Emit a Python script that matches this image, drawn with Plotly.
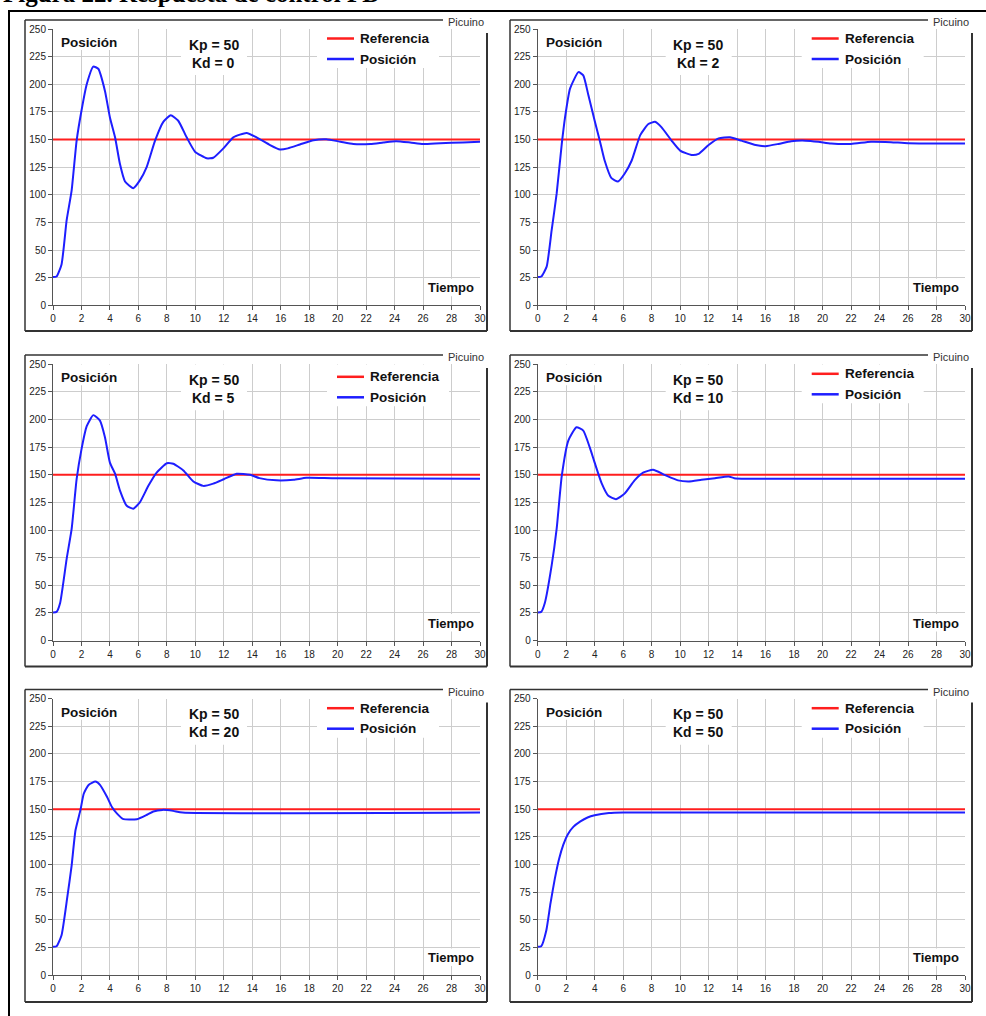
import plotly.graph_objects as go

# ---------------- data ----------------
kd_values = [0, 2, 5, 10, 20, 50]
kp_value = 50

ref_t = [0, 30]
ref_v = [150, 150]

t_kd0 = [0, 0.25, 0.6, 0.96, 1.31, 1.66, 2.0, 2.37, 2.83, 3.18, 3.65, 4.0, 4.36, 4.7, 5.06, 5.64, 6.1, 6.58,
         7.17, 7.75, 8.27, 8.8, 9.39, 9.98, 10.8, 11.26, 11.97, 12.67, 13.6, 14.3, 15.25, 15.95, 16.5, 17.35,
         18.3, 19.2, 20.2, 21.1, 22.3, 23.2, 24.1, 25.1, 26.0, 27.2, 28.8, 30]
v_kd0 = [25.5, 26, 37, 77, 104, 149, 176, 200, 216, 214, 194, 170, 152, 128, 112, 106, 113, 125,
         149, 166, 172, 167, 152, 139, 133, 133.5, 142, 152, 156, 152, 145, 141, 142, 145.5,
         149.4, 150.3, 148, 146, 146, 147.3, 148.5, 147.3, 146, 146.7, 147.3, 148]

t_kd2 = [0, 0.25, 0.63, 0.98, 1.33, 1.69, 1.92, 2.27, 2.86, 3.2, 3.56, 4.0, 4.36, 4.7, 5.18, 5.64, 6.1, 6.6,
         7.2, 7.77, 8.24, 8.7, 9.4, 10.0, 10.8, 11.3, 12.0, 12.7, 13.5, 14.3, 15.3, 16.0, 16.9, 17.8, 18.8,
         19.7, 20.6, 22.0, 23.4, 24.8, 26.0, 30]
v_kd2 = [25.5, 26, 35, 68, 101, 146, 170, 196, 211, 208, 190, 167, 149, 131, 115, 112, 119, 131,
         154, 164, 166, 161, 149, 140, 136, 137, 145, 151, 152, 149, 145, 144, 146, 148.5, 149,
         148, 146.4, 146, 148, 147.6, 146.7, 146.4]

t_kd5 = [0, 0.25, 0.5, 0.96, 1.31, 1.66, 2.0, 2.37, 2.83, 3.3, 3.65, 4.0, 4.36, 4.7, 5.18, 5.64, 6.1, 6.7,
         7.28, 8.0, 8.45, 9.16, 9.86, 10.56, 11.26, 12.0, 12.9, 13.84, 14.5, 15.7, 16.9, 17.8, 19.7, 30]
v_kd5 = [25.5, 26, 34, 74, 101, 146, 173, 194, 204, 199, 184, 161, 151, 136, 122, 119.4, 125, 140,
         152, 160.5, 160, 154, 144, 140, 142, 146, 151, 150, 147, 145, 145.5, 147.3, 147, 146.4]

t_kd10 = [0, 0.25, 0.5, 0.98, 1.33, 1.69, 2.15, 2.72, 3.2, 3.65, 4.0, 4.5, 4.96, 5.5, 6.1, 6.8, 7.4, 8.1,
          8.9, 9.85, 10.6, 11.5, 12.45, 13.4, 13.8, 14.6, 30]
v_kd10 = [25.5, 26, 34, 68, 101, 149, 181, 193, 190, 175, 161, 142, 131, 128, 133, 145, 152, 154.5,
          150, 145, 144, 145.5, 147, 148.5, 147, 146.4, 146.4]

t_kd20 = [0, 0.25, 0.6, 1.0, 1.3, 1.58, 1.93, 2.16, 2.5, 2.98, 3.3, 3.8, 4.14, 4.5, 4.95, 5.9, 6.6, 7.05,
          7.7, 8.44, 9.1, 30]
v_kd20 = [25.5, 26, 36, 70, 98, 131, 149.4, 164, 172, 175, 172, 161, 152, 146, 141, 141, 145, 148,
          149.4, 148.5, 147, 147]

t_kd50 = [0, 0.25, 0.6, 0.9, 1.2, 1.5, 1.8, 2.1, 2.5, 3.0, 3.5, 4.0, 5.0, 6.0, 30]
v_kd50 = [25.5, 26, 40, 65, 87, 105, 118, 127, 134, 139, 142.5, 144.5, 146.5, 147, 147]

series_t = [t_kd0, t_kd2, t_kd5, t_kd10, t_kd20, t_kd50]
series_v = [v_kd0, v_kd2, v_kd5, v_kd10, v_kd20, v_kd50]

x_ticks = list(range(0, 31, 2))
y_ticks = list(range(0, 251, 25))

title_text = "Figura 22. Respuesta de control PD"

# ---------------- layout geometry (pixels) ----------------
W, H = 986, 1016
col_x = [(53, 480), (537.7, 965)]
row_y = [(29, 305.3), (364.3, 640.6), (698.7, 975)]
box_x = [(25, 487), (510, 972)]
box_y = [(20, 331), (355, 666.5), (689.5, 1002)]
legend_dx = [0, 0, 10, 0, 0, 0]
legend_dy = [0, 0, 3, 0, 0, 0]

RED = "#ff1e1e"
BLUE = "#1e1eff"
FONT = "Liberation Sans, Arial, sans-serif"


def px(x):
    return x / W


def py(y):
    return 1 - y / H


fig = go.Figure()
shapes = []
annotations = []

for i in range(6):
    r, c = divmod(i, 2)
    x0, x30 = col_x[c]
    ytop, ybot = row_y[r]
    sfx = "" if i == 0 else str(i + 1)
    xa, ya = "x" + sfx, "y" + sfx

    fig.add_trace(go.Scatter(x=ref_t, y=ref_v, mode="lines", xaxis=xa, yaxis=ya,
                             line=dict(color=RED, width=2), showlegend=False, hoverinfo="skip"))
    fig.add_trace(go.Scatter(x=series_t[i], y=series_v[i], mode="lines", xaxis=xa, yaxis=ya,
                             line=dict(color=BLUE, width=2, shape="spline", smoothing=0.5),
                             showlegend=False))

    axis_common = dict(showgrid=True, gridcolor="#cdcdcd", gridwidth=1, showline=True,
                       linecolor="#555555", linewidth=1, ticks="outside", ticklen=4,
                       tickcolor="#555555", tickfont=dict(family=FONT, size=10, color="#222222"),
                       zeroline=False, fixedrange=True, automargin=False)
    fig.update_layout(**{
        "xaxis" + sfx: dict(domain=[px(x0), px(x30)], range=[0, 30], tickvals=x_ticks,
                            anchor=ya, **axis_common),
        "yaxis" + sfx: dict(domain=[py(ybot), py(ytop)], range=[0, 250], tickvals=y_ticks,
                            anchor=xa, **axis_common),
    })

    def to_t(p):
        return (p - x0) / (x30 - x0) * 30

    def to_v(p):
        return (ybot - p) / (ybot - ytop) * 250

    # white text-box backgrounds (cover gridlines)
    ldx, ldy = legend_dx[i], legend_dy[i]
    for (a, b, cc, d) in [(x0 + 2, ytop, x0 + 72, ytop + 21),
                          (x0 + 128, ytop, x0 + 194, ytop + 46),
                          (x0 + 264 + ldx, ytop, x0 + 386 + ldx, ytop + 39 + ldy),
                          (x0 + 372, ybot - 26.5, x0 + 426, ybot - 9)]:
        shapes.append(dict(type="rect", xref=xa, yref=ya, x0=to_t(a), x1=to_t(cc),
                           y0=to_v(d), y1=to_v(b), fillcolor="white", line=dict(width=0),
                           layer="between"))

    # texts
    annotations.append(dict(text="<b>Posición</b>", x=px(x0 + 6), y=py(ytop + 13.5),
                            xanchor="left", yanchor="middle", font=dict(size=13.5)))
    annotations.append(dict(text="<b>Kp = %d</b>" % kp_value, x=px(x0 + 160.5), y=py(ytop + 15.5),
                            xanchor="center", yanchor="middle", font=dict(size=14)))
    annotations.append(dict(text="<b>Kd = %d</b>" % kd_values[i], x=px(x0 + 160.5), y=py(ytop + 33.5),
                            xanchor="center", yanchor="middle", font=dict(size=14)))
    # legend
    for k, (name, col) in enumerate([("Referencia", RED), ("Posición", BLUE)]):
        yy = ytop + 9.5 + ldy + k * 20.5
        shapes.append(dict(type="line", xref="paper", yref="paper",
                           x0=px(x0 + 274 + ldx), x1=px(x0 + 301 + ldx), y0=py(yy), y1=py(yy),
                           line=dict(color=col, width=2.5)))
        annotations.append(dict(text="<b>%s</b>" % name, x=px(x0 + 305 + ldx), y=py(yy),
                                xanchor="left", yanchor="middle", font=dict(size=13.5)))
    annotations.append(dict(text="<b>Tiempo</b>", x=px(x30 - 4), y=py(ybot - 17.6),
                            xanchor="right", yanchor="middle", font=dict(size=13)))

    # chart box border with "Picuino" break
    bl, br = box_x[c]
    bt, bb = box_y[r]
    border = dict(color="#333333", width=1.5)
    shapes.append(dict(type="line", xref="paper", yref="paper", x0=px(bl), x1=px(br - 44),
                       y0=py(bt), y1=py(bt), line=border))
    shapes.append(dict(type="line", xref="paper", yref="paper", x0=px(bl), x1=px(bl),
                       y0=py(bt), y1=py(bb), line=border))
    shapes.append(dict(type="line", xref="paper", yref="paper", x0=px(bl), x1=px(br),
                       y0=py(bb), y1=py(bb), line=dict(color="#333333", width=2)))
    shapes.append(dict(type="line", xref="paper", yref="paper", x0=px(br), x1=px(br),
                       y0=py(bt + 13), y1=py(bb), line=dict(color="#333333", width=2)))
    annotations.append(dict(text="Picuino", x=px(br - 1), y=py(bt + 2), xanchor="right",
                            yanchor="middle", font=dict(size=11, color="#333333")))

# outer frame
shapes.append(dict(type="rect", xref="paper", yref="paper", x0=px(9), x1=px(1000),
                   y0=py(1030), y1=py(11), line=dict(color="black", width=2)))

# cropped figure caption at the top
annotations.append(dict(text="<b>%s</b>" % title_text, x=px(1), y=py(-6.5), xanchor="left",
                        yanchor="middle",
                        font=dict(family="Liberation Serif, Times New Roman, serif", size=25,
                                  color="black")))

for a in annotations:
    a.update(xref="paper", yref="paper", showarrow=False)
    a.setdefault("font", {})
    a["font"].setdefault("family", FONT)
    a["font"].setdefault("color", "#111111")

fig.update_layout(width=W, height=H, autosize=False,
                  margin=dict(l=0, r=0, t=0, b=0, pad=0, autoexpand=False),
                  paper_bgcolor="white", plot_bgcolor="white", shapes=shapes,
                  annotations=annotations, font=dict(family=FONT))

fig.write_html("out.html", config={"displayModeBar": False},
               post_script="document.body.style.margin='0px';")
